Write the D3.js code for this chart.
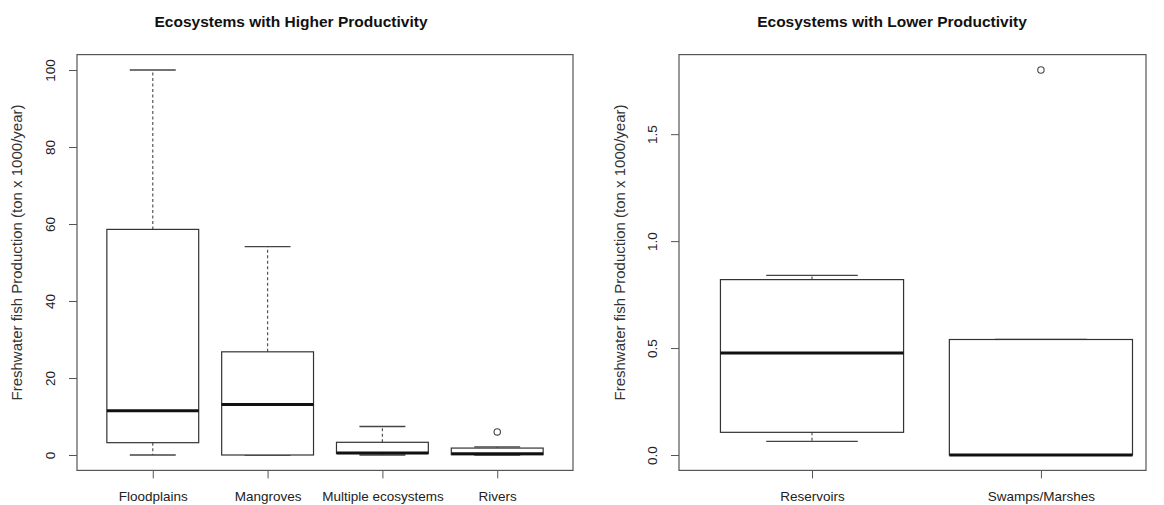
<!DOCTYPE html>
<html>
<head>
<meta charset="utf-8">
<script src="https://cdn.jsdelivr.net/npm/d3@7"></script>
<style>
  html, body { margin: 0; padding: 0; background: #fff; }
  svg { display: block; }
  text { font-family: "Liberation Sans", Arial, sans-serif; fill: #222; }
</style>
</head>
<body>
<svg id="chart" width="1164" height="505"></svg>
<script>
// Higher-productivity ecosystems (ton x 1000 / year)
const highCategories   = ["Floodplains", "Mangroves", "Multiple ecosystems", "Rivers"];
const highLowWhisker   = [0, 0, 0, 0];
const highQ1           = [3.2, 0, 0.4, 0.1];
const highMedian       = [11.5, 13.1, 0.5, 0.35];
const highQ3           = [58.6, 26.8, 3.3, 1.8];
const highHighWhisker  = [100, 54.1, 7.4, 2.1];
const highOutliers     = [[], [], [], [6]];
const highTicks        = [0, 20, 40, 60, 80, 100];

// Lower-productivity ecosystems (ton x 1000 / year)
const lowCategories    = ["Reservoirs", "Swamps/Marshes"];
const lowLowWhisker    = [0.064, 0];
const lowQ1            = [0.106, 0];
const lowMedian        = [0.477, 0];
const lowQ3            = [0.82, 0.54];
const lowHighWhisker   = [0.84, 0.54];
const lowOutliers      = [[], [1.8]];
const lowTicks         = [0, 0.5, 1.0, 1.5];

const yLabel = "Freshwater fish Production (ton x 1000/year)";

const svg = d3.select("#chart");

function panel(cfg) {
  const g = svg.append("g");
  const x = d3.scaleLinear().domain(cfg.xDomain).range([cfg.left, cfg.right]);
  const y = d3.scaleLinear().domain(cfg.yDomain).range([cfg.bottom, cfg.top]);
  const boxW = x(0.8) - x(0);
  const capW = boxW / 2;

  const rows = cfg.cats.map((c, i) => ({
    cat: c, pos: i + 1,
    lo: cfg.lo[i], q1: cfg.q1[i], med: cfg.med[i], q3: cfg.q3[i], hi: cfg.hi[i],
    out: cfg.out[i]
  }));

  // title
  g.append("text")
    .attr("x", cfg.titleX).attr("y", 27)
    .attr("text-anchor", "middle")
    .style("font-weight", "bold").style("font-size", "15.5px").style("fill", "#111")
    .text(cfg.title);

  // y axis: ticks on the left, labels turned parallel to the axis
  const yAxis = g.append("g")
    .attr("transform", `translate(${cfg.left},0)`)
    .call(d3.axisLeft(y).tickValues(cfg.ticks).tickSize(8).tickSizeOuter(0)
      .tickFormat(cfg.fmt));
  yAxis.select(".domain").remove();
  yAxis.selectAll("line").attr("stroke", "#555");
  yAxis.selectAll("text")
    .attr("x", null).attr("y", null).attr("dy", null)
    .attr("text-anchor", "middle")
    .attr("transform", "translate(-22,0) rotate(-90)")
    .style("font-size", "13.5px").style("font-family", "'Liberation Sans', Arial, sans-serif")
    .attr("fill", "#333");

  // x axis
  const xAxis = g.append("g")
    .attr("transform", `translate(0,${cfg.bottom})`)
    .call(d3.axisBottom(x).tickValues(rows.map(r => r.pos)).tickSize(8).tickSizeOuter(0)
      .tickFormat((d, i) => rows[i].cat));
  xAxis.select(".domain").remove();
  xAxis.selectAll("line").attr("stroke", "#555");
  xAxis.selectAll("text")
    .attr("y", 31).attr("dy", null)
    .style("font-size", "13.5px").style("font-family", "'Liberation Sans', Arial, sans-serif")
    .attr("fill", "#333");

  // axis title
  g.append("text")
    .attr("transform", `translate(${cfg.labelX},${(cfg.top + cfg.bottom) / 2 - 10}) rotate(-90)`)
    .attr("text-anchor", "middle")
    .style("font-size", "15px").style("fill", "#333")
    .text(yLabel);

  // frame
  g.append("rect")
    .attr("x", cfg.left).attr("y", cfg.top)
    .attr("width", cfg.right - cfg.left).attr("height", cfg.bottom - cfg.top)
    .attr("fill", "none").attr("stroke", "#555").attr("stroke-width", 1.2);

  const b = g.selectAll(".box").data(rows).join("g").attr("class", "box");

  // whiskers
  b.append("line")
    .attr("x1", d => x(d.pos)).attr("x2", d => x(d.pos))
    .attr("y1", d => y(d.q3)).attr("y2", d => y(d.hi))
    .attr("stroke", "#555").attr("stroke-width", 1.2).attr("stroke-dasharray", "3,2.5");
  b.append("line")
    .attr("x1", d => x(d.pos)).attr("x2", d => x(d.pos))
    .attr("y1", d => y(d.q1)).attr("y2", d => y(d.lo))
    .attr("stroke", "#555").attr("stroke-width", 1.2).attr("stroke-dasharray", "3,2.5");
  // staples
  b.append("line")
    .attr("x1", d => x(d.pos) - capW / 2).attr("x2", d => x(d.pos) + capW / 2)
    .attr("y1", d => y(d.hi)).attr("y2", d => y(d.hi))
    .attr("stroke", "#444").attr("stroke-width", 1.3);
  b.append("line")
    .attr("x1", d => x(d.pos) - capW / 2).attr("x2", d => x(d.pos) + capW / 2)
    .attr("y1", d => y(d.lo)).attr("y2", d => y(d.lo))
    .attr("stroke", "#444").attr("stroke-width", 1.3);
  // box
  b.append("rect")
    .attr("x", d => x(d.pos) - boxW / 2).attr("width", boxW)
    .attr("y", d => y(d.q3)).attr("height", d => y(d.q1) - y(d.q3))
    .attr("fill", "#fff").attr("stroke", "#333").attr("stroke-width", 1.2);
  // median
  b.append("line")
    .attr("x1", d => x(d.pos) - boxW / 2).attr("x2", d => x(d.pos) + boxW / 2)
    .attr("y1", d => y(d.med)).attr("y2", d => y(d.med))
    .attr("stroke", "#111").attr("stroke-width", 3);
  // outliers
  b.selectAll("circle").data(d => d.out.map(v => ({ pos: d.pos, v })))
    .join("circle")
    .attr("cx", d => x(d.pos)).attr("cy", d => y(d.v)).attr("r", 3.2)
    .attr("fill", "none").attr("stroke", "#444").attr("stroke-width", 1.1);
}

panel({
  title: "Ecosystems with Higher Productivity", titleX: 291,
  cats: highCategories, lo: highLowWhisker, q1: highQ1, med: highMedian,
  q3: highQ3, hi: highHighWhisker, out: highOutliers, ticks: highTicks,
  fmt: d3.format("d"),
  xDomain: [0.34, 4.66], yDomain: [-4, 104],
  left: 77, right: 573, top: 54.6, bottom: 470.4, labelX: 22
});

panel({
  title: "Ecosystems with Lower Productivity", titleX: 892,
  cats: lowCategories, lo: lowLowWhisker, q1: lowQ1, med: lowMedian,
  q3: lowQ3, hi: lowHighWhisker, out: lowOutliers, ticks: lowTicks,
  fmt: d3.format(".1f"),
  xDomain: [0.419, 2.459], yDomain: [-0.072, 1.872],
  left: 679, right: 1146, top: 54.6, bottom: 470.4, labelX: 625
});
</script>
</body>
</html>
